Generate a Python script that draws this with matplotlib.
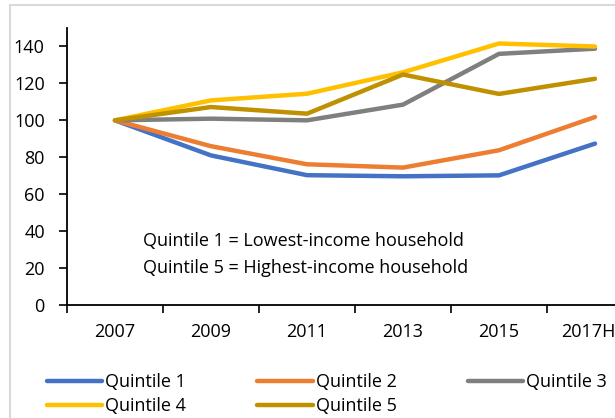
import matplotlib
matplotlib.use("Agg")
import matplotlib.pyplot as plt
from matplotlib.patches import Rectangle

years = ["2007", "2009", "2011", "2013", "2015", "2017H"]
q1 = [100, 81, 70.3, 69.7, 70.2, 87.4]
q2 = [100, 86, 76.2, 74.4, 83.8, 101.8]
q3 = [100, 100.9, 100, 108.5, 136, 138.8]
q4 = [100, 110.8, 114.4, 126, 141.6, 140]
q5 = [100, 107.2, 103.6, 124.8, 114.3, 122.5]
names = ["Quintile 1", "Quintile 2", "Quintile 3", "Quintile 4", "Quintile 5"]
colors = ["#4472C4", "#ED7D31", "#7F7F7F", "#FFC000", "#BF9000"]
yticks = [0, 20, 40, 60, 80, 100, 120, 140]

plt.rcParams['font.family'] = ['Open Sans', 'DejaVu Sans']
FS = 13
W, H = 615, 418
fig = plt.figure(figsize=(W/100, H/100), dpi=100)
fig.patches.append(Rectangle((10/W, -0.1), 1.2, 1 - 5/H + 0.1, transform=fig.transFigure,
                             fill=False, edgecolor="#D9D9D9", linewidth=1.5))

left, right, top, bottom = 67, 643, 28, 305
ax = fig.add_axes([left/W, 1 - bottom/H, (right-left)/W, (bottom-top)/H])
x = list(range(len(years)))
lines = []
for s, n, c in zip([q1, q2, q3, q4, q5], names, colors):
    l, = ax.plot(x, s, color=c, lw=3.2, solid_capstyle="round", label=n)
    lines.append(l)

ax.set_xlim(-0.5, len(years) - 0.5)
ax.set_ylim(0, 150)
ax.set_yticks(yticks)
ax.set_yticklabels([str(v) for v in yticks], fontsize=FS)
ax.set_xticks([i - 0.5 for i in range(len(years) + 1)])
ax.set_xticklabels([])
ax.set_xticks(x[:-1], minor=True)
ax.set_xticklabels(years[:-1], minor=True, fontsize=FS)
# last category label: shifted left so it stays inside the picture, as in the reference
ax.annotate(years[-1], xy=(x[-1], 0), xycoords=("data", "axes fraction"),
            xytext=(-5, -13), textcoords="offset points", ha="center", va="top",
            fontsize=FS, annotation_clip=False)
ax.tick_params(axis="x", which="major", length=6, width=1.2, direction="out")
ax.tick_params(axis="x", which="minor", length=0, pad=13)
ax.tick_params(axis="y", length=6, width=1.2, direction="out", pad=10)
for sp in ["top", "right"]:
    ax.spines[sp].set_visible(False)
for sp in ["left", "bottom"]:
    ax.spines[sp].set_linewidth(1.3)
    ax.spines[sp].set_color("black")

ax.text(143/W, 1 - 241/H, "Quintile 1 = Lowest-income household", transform=fig.transFigure,
        fontsize=FS, va="center", ha="left")
ax.text(143/W, 1 - 268/H, "Quintile 5 = Highest-income household", transform=fig.transFigure,
        fontsize=FS, va="center", ha="left")

order = [0, 3, 1, 4, 2]
fig.legend([lines[i] for i in order], [names[i] for i in order], ncol=3,
           loc="upper left", bbox_to_anchor=(47/W, 1 - 373/H), frameon=False,
           fontsize=FS, handlelength=3.05, handletextpad=0.17, columnspacing=3.95,
           labelspacing=0.33, borderpad=0, borderaxespad=0)

fig.savefig("out.png", dpi=100)
